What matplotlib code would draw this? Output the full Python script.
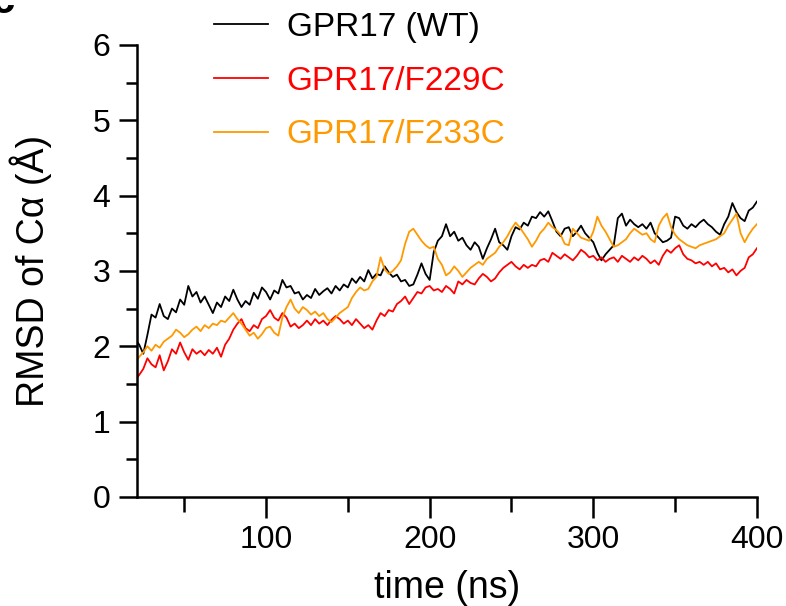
import matplotlib

matplotlib.use("Agg")

import matplotlib.pyplot as plt
import numpy as np
from matplotlib.ticker import MultipleLocator

plt.rcParams["font.family"] = ["Liberation Sans", "DejaVu Sans"]

labels = ["GPR17 (WT)", "GPR17/F229C", "GPR17/F233C"]
colors = ["#000000", "#ff0000", "#ff9900"]

rmsd_wt = [
    2.10, 2.02, 1.90, 2.15, 2.42, 2.38, 2.56, 2.40, 2.36, 2.50,
    2.45, 2.62, 2.55, 2.80, 2.66, 2.72, 2.58, 2.66, 2.55, 2.44,
    2.58, 2.52, 2.66, 2.60, 2.75, 2.62, 2.52, 2.60, 2.55, 2.71,
    2.63, 2.78, 2.72, 2.62, 2.74, 2.70, 2.88, 2.78, 2.80, 2.70,
    2.72, 2.62, 2.68, 2.64, 2.76, 2.68, 2.73, 2.77, 2.70, 2.80,
    2.74, 2.82, 2.78, 2.90, 2.84, 2.92, 2.86, 3.01, 2.90, 2.96,
    2.94, 3.06, 2.98, 2.92, 2.95, 2.86, 2.88, 2.80, 2.82, 2.95,
    3.10, 2.96, 2.88, 3.25, 3.40, 3.46, 3.62, 3.46, 3.52, 3.40,
    3.44, 3.34, 3.28, 3.38, 3.32, 3.16, 3.30, 3.42, 3.56, 3.38,
    3.34, 3.28, 3.46, 3.58, 3.55, 3.64, 3.60, 3.72, 3.70, 3.78,
    3.72, 3.79, 3.66, 3.52, 3.46, 3.56, 3.58, 3.46, 3.52, 3.60,
    3.50, 3.44, 3.38, 3.24, 3.14, 3.22, 3.28, 3.34, 3.70, 3.76,
    3.60, 3.68, 3.62, 3.58, 3.62, 3.56, 3.64, 3.50, 3.44, 3.38,
    3.40, 3.44, 3.72, 3.70, 3.60, 3.56, 3.62, 3.58, 3.64, 3.68,
    3.62, 3.58, 3.52, 3.48, 3.62, 3.72, 3.90, 3.78, 3.70, 3.66,
    3.80, 3.84, 3.92,
]
rmsd_f229c = [
    1.55, 1.62, 1.70, 1.84, 1.76, 1.72, 1.88, 1.68, 1.80, 1.96,
    1.90, 2.05, 1.92, 1.82, 1.96, 1.90, 1.94, 1.88, 1.95, 1.90,
    1.98, 1.86, 2.02, 2.10, 2.22, 2.30, 2.36, 2.24, 2.20, 2.28,
    2.24, 2.36, 2.40, 2.48, 2.38, 2.34, 2.44, 2.38, 2.26, 2.30,
    2.24, 2.28, 2.34, 2.28, 2.36, 2.30, 2.34, 2.28, 2.35, 2.40,
    2.36, 2.30, 2.34, 2.28, 2.36, 2.30, 2.24, 2.28, 2.22, 2.34,
    2.44, 2.40, 2.48, 2.46, 2.56, 2.60, 2.66, 2.56, 2.64, 2.72,
    2.70, 2.78, 2.80, 2.74, 2.76, 2.72, 2.80, 2.76, 2.70, 2.86,
    2.82, 2.88, 2.84, 2.82, 2.90, 2.96, 2.92, 2.86, 2.90, 2.98,
    3.04, 3.08, 3.12, 3.06, 3.02, 3.08, 3.04, 3.08, 3.06, 3.14,
    3.16, 3.12, 3.24, 3.20, 3.16, 3.22, 3.18, 3.14, 3.20, 3.28,
    3.24, 3.18, 3.20, 3.14, 3.18, 3.12, 3.16, 3.18, 3.12, 3.20,
    3.16, 3.12, 3.18, 3.14, 3.20, 3.16, 3.10, 3.14, 3.08, 3.20,
    3.28, 3.24, 3.30, 3.34, 3.22, 3.16, 3.14, 3.10, 3.12, 3.08,
    3.12, 3.06, 3.10, 3.02, 3.04, 2.98, 3.02, 2.94, 3.00, 3.04,
    3.18, 3.22, 3.30,
]
rmsd_f233c = [
    1.78, 1.86, 1.92, 2.00, 1.94, 2.02, 1.98, 2.06, 2.10, 2.14,
    2.22, 2.18, 2.12, 2.16, 2.22, 2.26, 2.20, 2.28, 2.24, 2.30,
    2.28, 2.34, 2.32, 2.38, 2.44, 2.36, 2.30, 2.22, 2.14, 2.18,
    2.10, 2.16, 2.24, 2.26, 2.18, 2.14, 2.38, 2.52, 2.62, 2.50,
    2.44, 2.52, 2.48, 2.42, 2.46, 2.40, 2.44, 2.36, 2.32, 2.38,
    2.44, 2.48, 2.52, 2.64, 2.72, 2.78, 2.74, 2.76, 2.86, 2.92,
    3.18, 3.02, 2.96, 3.00, 3.06, 3.14, 3.36, 3.52, 3.56, 3.48,
    3.40, 3.34, 3.30, 3.32, 3.16, 3.08, 2.94, 2.98, 3.06, 3.00,
    2.92, 2.98, 3.04, 3.08, 3.12, 3.08, 3.16, 3.20, 3.24, 3.32,
    3.38, 3.46, 3.56, 3.64, 3.58, 3.50, 3.42, 3.32, 3.40, 3.50,
    3.56, 3.64, 3.58, 3.54, 3.48, 3.36, 3.34, 3.56, 3.50, 3.44,
    3.42, 3.40, 3.52, 3.72, 3.60, 3.52, 3.42, 3.32, 3.34, 3.38,
    3.42, 3.50, 3.56, 3.52, 3.48, 3.50, 3.42, 3.38, 3.60, 3.70,
    3.76, 3.58, 3.48, 3.42, 3.38, 3.34, 3.32, 3.30, 3.34, 3.36,
    3.38, 3.40, 3.42, 3.46, 3.50, 3.60, 3.68, 3.76, 3.50, 3.38,
    3.48, 3.56, 3.62,
]

series = [rmsd_wt, rmsd_f229c, rmsd_f233c]

fig = plt.figure(figsize=(7.86, 6.06), dpi=100)
ax = fig.add_axes([0.174, 0.180, 0.789, 0.746])

for values, label, color in zip(series, labels, colors):
    t = np.linspace(20, 400, len(values))
    ax.plot(t, values, color=color, lw=1.3, label=label)

ax.set_xlim(21, 400)
ax.set_ylim(0, 6)
ax.xaxis.set_major_locator(MultipleLocator(100))
ax.xaxis.set_minor_locator(MultipleLocator(50))
ax.yaxis.set_major_locator(MultipleLocator(1))
ax.yaxis.set_minor_locator(MultipleLocator(0.5))

for side in ["top", "right"]:
    ax.spines[side].set_visible(False)
for side in ["left", "bottom"]:
    ax.spines[side].set_linewidth(1.8)

ax.tick_params(axis="x", which="major", length=15, width=1.8, pad=5, labelsize=23)
ax.tick_params(axis="x", which="minor", length=11, width=1.8)
ax.tick_params(axis="y", which="major", length=13, width=1.8, pad=6, labelsize=23)
ax.tick_params(axis="y", which="minor", length=8, width=1.8)

ax.set_xlabel("time (ns)", fontsize=27)
ax.set_ylabel("RMSD of C\u03b1 (\u00c5)", fontsize=27)
ax.xaxis.set_label_coords(0.5, -0.162)
ax.yaxis.set_label_coords(-0.136, 0.5)

leg = ax.legend(
    loc="upper left",
    bbox_to_anchor=(0.272, 0.98),
    bbox_transform=fig.transFigure,
    frameon=False,
    fontsize=24,
    handlelength=1.62,
    handletextpad=0.57,
    labelspacing=0.68,
    borderpad=0,
    borderaxespad=0,
)
for text, color in zip(leg.get_texts(), colors):
    text.set_color(color)

# panel letter, cut off by the crop in the original
fig.text(0.004, 0.978, "c", fontsize=30, fontweight="bold", ha="center", va="baseline")

fig.savefig("out.png", dpi=100)
plt.close(fig)
